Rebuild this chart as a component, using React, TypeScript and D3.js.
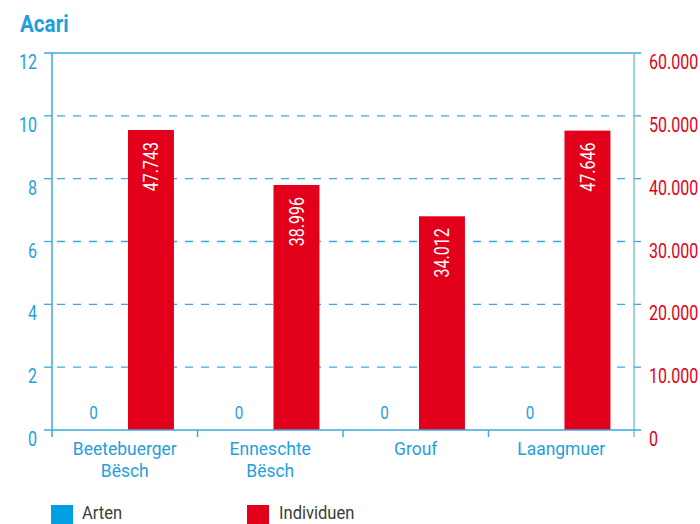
import React from "react";
import * as d3 from "d3";

const categories = [["Beetebuerger", "Bësch"], ["Enneschte", "Bësch"], ["Grouf"], ["Laangmuer"]];
const categoryKeys = ["Beetebuerger Bësch", "Enneschte Bësch", "Grouf", "Laangmuer"];
const arten = [0, 0, 0, 0];
const individuen = [47743, 38996, 34012, 47646];
const leftTicks = [0, 2, 4, 6, 8, 10, 12];
const rightTicks = [0, 10000, 20000, 30000, 40000, 50000, 60000];
const seriesNames = ["Arten", "Individuen"];

const W = 700, H = 524;
const M = { left: 52, right: 634, top: 53, bottom: 430 };
const BLUE = "#1f9fdc";
const AXIS = "#3aa9e0";
const AXIS_R = "#79c3ea";
const RED = "#e2001a";
const FONT = "Roboto, 'Liberation Sans', sans-serif";
const NUM_SX = 0.8;
const TXT_SX = 0.92;

const fmt = (v: number) => d3.format(",")(v).replace(/,/g, ".");

function T(props: any) {
  const { x, y, sx = 1, rot = 0, children, ...rest } = props;
  const tf = `translate(${x},${y})` + (rot ? ` rotate(${rot})` : "") + ` scale(${sx},1)`;
  return <text transform={tf} {...rest}>{children}</text>;
}

export default function App() {
  const x = d3.scaleBand<string>().domain(categoryKeys).range([M.left, M.right]).padding(0);
  const inner = d3.scaleBand<string>().domain(seriesNames).range([0, x.bandwidth()])
    .paddingInner(0.2).paddingOuter(0.366).align(0.44);
  const yL = d3.scaleLinear().domain([0, 12]).range([M.bottom, M.top]);
  const yR = d3.scaleLinear().domain([0, 60000]).range([M.bottom, M.top]);
  const boundaries = categoryKeys.map((k) => x(k) as number).concat([M.right]);

  return (
    <svg width={W} height={H} style={{ position: "absolute", left: 0, top: 0, display: "block" }} fontFamily={FONT}>
      <rect width={W} height={H} fill="#fff" />
      <T x={20} y={32} sx={0.86} fontSize={24} fontWeight="bold" fill={BLUE}>Acari</T>

      {/* grid */}
      {leftTicks.filter((t) => t !== 0 && t !== 12).map((t) => (
        <g key={"g" + t}>
          <line x1={44} x2={M.left} y1={yL(t)} y2={yL(t)} stroke={AXIS} strokeWidth={1.3} />
          <line x1={M.left + 5} x2={M.right} y1={yL(t)} y2={yL(t)} stroke={AXIS} strokeWidth={1.3} strokeDasharray="8,8" />
          <line x1={M.right} x2={641} y1={yL(t)} y2={yL(t)} stroke={AXIS} strokeWidth={1.3} />
        </g>
      ))}
      <line x1={44} x2={641} y1={yL(12)} y2={yL(12)} stroke={AXIS} strokeWidth={1.3} />

      {/* bars */}
      {categoryKeys.map((k, i) => {
        const x0 = x(k) as number;
        const xa = x0 + (inner("Arten") as number);
        const xi = x0 + (inner("Individuen") as number);
        const bw = inner.bandwidth();
        const top = yR(individuen[i]);
        return (
          <g key={k}>
            <rect x={xa} y={yL(arten[i])} width={bw} height={yL(0) - yL(arten[i])} fill="#009ee3" />
            <T x={xa + bw / 2} y={yL(arten[i]) - 11} sx={NUM_SX} textAnchor="middle" fontSize={19} fill={BLUE}>{arten[i]}</T>
            <rect x={xi} y={top} width={bw} height={yR(0) - top} fill={RED} />
            <T x={xi + bw / 2} y={top + 12} rot={-90} sx={NUM_SX} textAnchor="end" dominantBaseline="central" fontSize={20} fill="#fff">{fmt(individuen[i])}</T>
          </g>
        );
      })}

      {/* axes */}
      <line x1={M.left} x2={M.left} y1={M.top} y2={437} stroke={AXIS} strokeWidth={1.5} />
      <line x1={M.right} x2={M.right} y1={M.top} y2={437} stroke={AXIS_R} strokeWidth={1.5} />
      <line x1={44} x2={641} y1={yL(0)} y2={yL(0)} stroke={AXIS} strokeWidth={1.5} />
      {boundaries.slice(1, -1).map((b, i) => (
        <line key={"t" + i} x1={b} x2={b} y1={yL(0)} y2={437} stroke={AXIS} strokeWidth={1.5} />
      ))}

      {leftTicks.map((t) => (
        <T key={"l" + t} x={37} y={yL(t) + 16} sx={NUM_SX} textAnchor="end" fontSize={20} fill={BLUE}>{t}</T>
      ))}
      {rightTicks.map((t) => (
        <T key={"r" + t} x={649} y={yR(t) + 16} sx={NUM_SX} textAnchor="start" fontSize={20} fill={RED}>{fmt(t)}</T>
      ))}

      {categoryKeys.map((k, i) => (
        <T key={"c" + k} x={(x(k) as number) + x.bandwidth() / 2} y={455} sx={TXT_SX} textAnchor="middle" fontSize={19} fill={BLUE}>
          {categories[i].map((line, j) => (
            <tspan key={j} x={0} dy={j === 0 ? 0 : 22}>{line}</tspan>
          ))}
        </T>
      ))}

      {/* legend */}
      <rect x={51} y={505} width={22} height={22} fill="#009ee3" />
      <T x={82} y={519} sx={TXT_SX} fontSize={18} fill="#3c3c3b">{seriesNames[0]}</T>
      <rect x={247} y={505} width={22} height={22} fill={RED} />
      <T x={279} y={519} sx={TXT_SX} fontSize={18} fill="#3c3c3b">{seriesNames[1]}</T>
    </svg>
  );
}
